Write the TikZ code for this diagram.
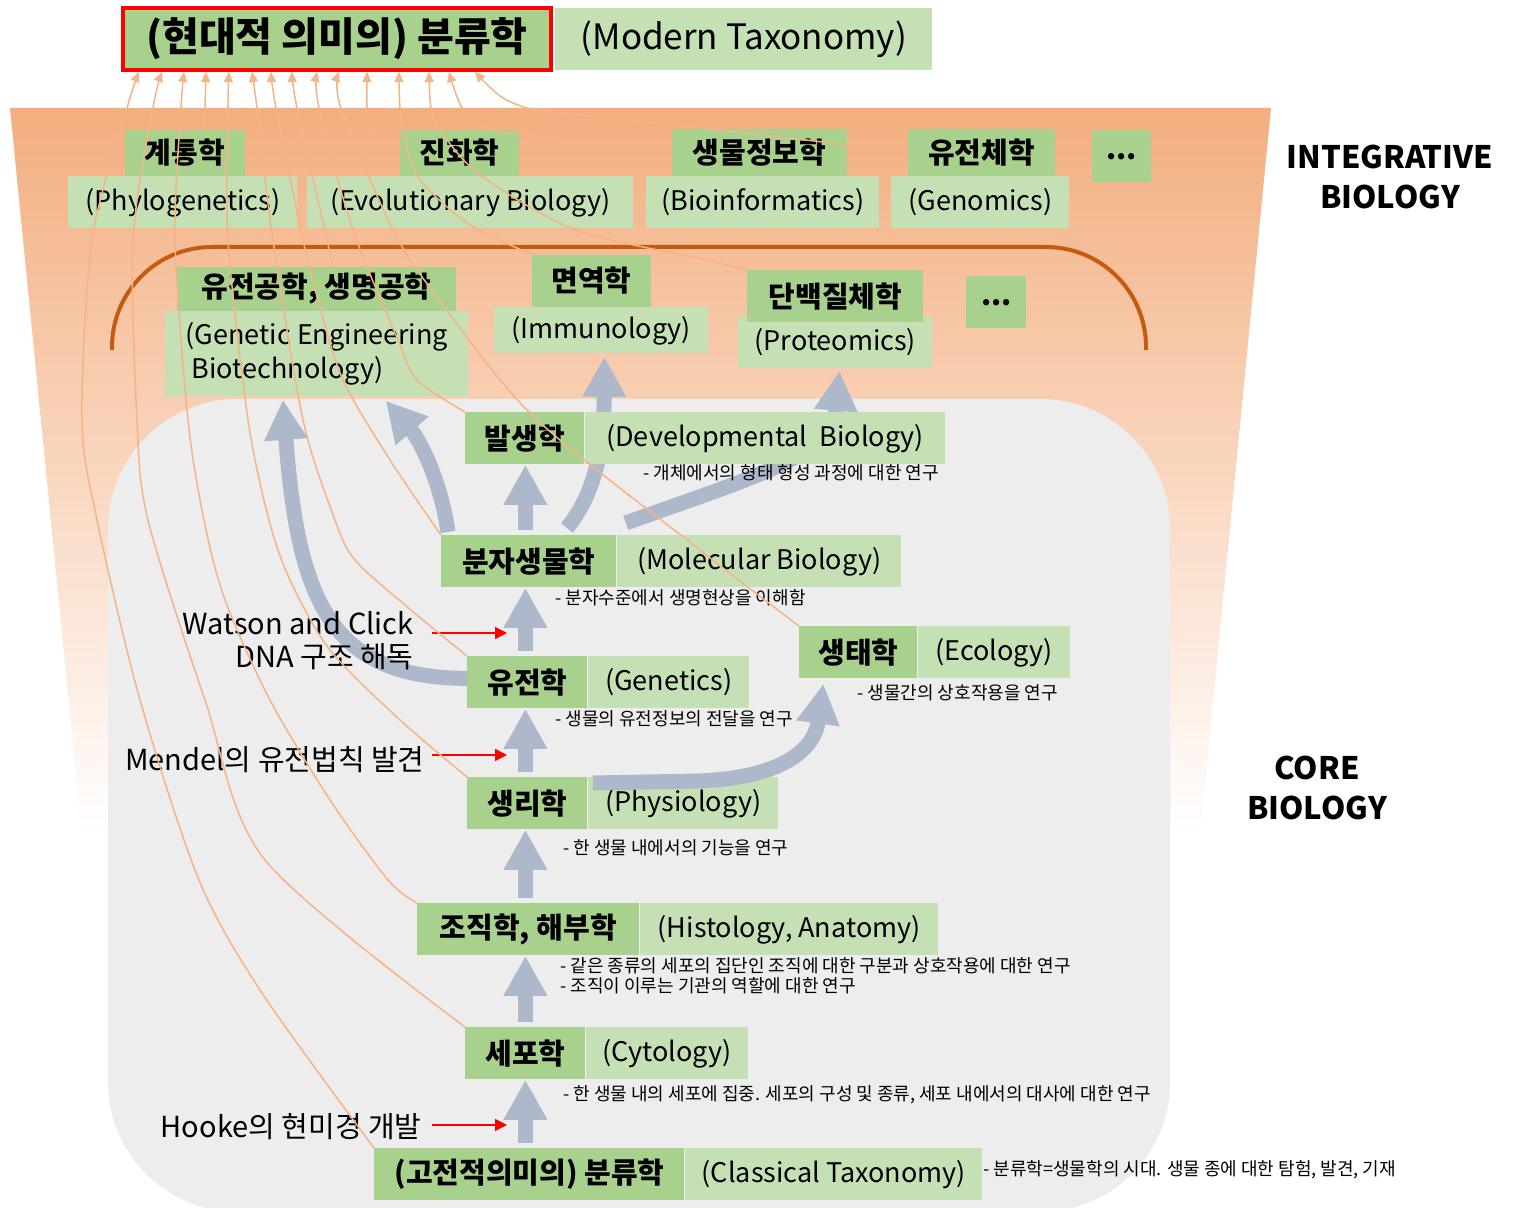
\documentclass[tikz,border=0pt]{standalone}
\usepackage{fontspec}
\setmainfont{Noto Sans CJK KR}
\usetikzlibrary{arrows.meta,positioning,calc}
\definecolor{kgreen}{HTML}{A9D18E}
\definecolor{egreen}{HTML}{C5E0B4}
\definecolor{arrgray}{HTML}{ADB9CA}
\definecolor{thinor}{HTML}{F5B386}
\definecolor{ortop}{HTML}{F3AE7F}
\definecolor{ormid}{HTML}{F8CAA9}
\definecolor{corebg}{HTML}{EDEDED}
\definecolor{arcbrown}{HTML}{C55A11}
\pgfdeclarelayer{bg}
\pgfdeclarelayer{under}
\pgfsetlayers{bg,under,main}

\begin{document}
\begin{tikzpicture}[x=0.5pt,y=-0.5pt,
kbox/.style={fill=kgreen,inner sep=0pt,minimum height=26pt,font=\bfseries\fontsize{14.5}{17}\selectfont},
ebox/.style={fill=egreen,inner sep=0pt,minimum height=26pt,font=\fontsize{13.5}{17}\selectfont},
note/.style={anchor=west,inner sep=0pt,align=left,font=\fontsize{9}{10}\selectfont},
sidelab/.style={anchor=east,inner sep=0pt,align=right,font=\fontsize{14.5}{16.5}\selectfont},
bigtitle/.style={align=center,inner sep=0pt,font=\bfseries\fontsize{15.5}{20}\selectfont},
bigarr/.style={draw=arrgray,line width=7.5pt,-{Triangle[length=20pt,width=20.5pt]}},
orln/.style={draw=thinor,line width=0.75pt,-{Triangle[length=5pt,width=4.5pt]}},
redarr/.style={draw=red,line width=0.8pt,-{Triangle[length=6pt,width=6pt]}}]
\useasboundingbox (0,0) rectangle (1517,1208);
% background bands
\begin{pgfonlayer}{bg}
\fill[white] (0,0) rectangle (1517,1208);
\shade[top color=ortop,middle color=ormid,bottom color=white] (10,108) -- (1271,108) -- (1200,835) -- (82,835) -- cycle;
\fill[corebg,rounded corners=65pt] (108,399) rectangle (1170,1212);
\draw[arcbrown,line width=2pt,rounded corners=50pt] (112,350) |- (1146,247) -- (1146,350);
\end{pgfonlayer}
\node[bigtitle] (integ) at (1390,177) {INTEGRATIVE\\BIOLOGY};
\node[bigtitle] (core) at (1317,788) {CORE\\BIOLOGY};
% top
\node[kbox,draw=red,line width=2pt,minimum width=214pt,minimum height=31pt,font=\bfseries\fontsize{20}{22}\selectfont] (modernK) at (337,39) {(현대적 의미의) 분류학};
\node[ebox,minimum width=188.5pt,minimum height=31pt,font=\fontsize{17.5}{20}\selectfont,right=1pt of modernK] (modernE) {(Modern Taxonomy)};
% integrative row
\node[ebox,minimum width=114.5pt,anchor=north west] (phyloE) at (68,176) {(Phylogenetics)};
\node[kbox,minimum width=60pt,minimum height=23pt,anchor=south] (phyloK) at (185,176) {계통학};
\node[ebox,minimum width=163pt,anchor=north west] (evoE) at (307,176) {(Evolutionary Biology)};
\node[kbox,minimum width=59.5pt,minimum height=23pt,anchor=south] (evoK) at (459.5,176) {진화학};
\node[ebox,minimum width=116.5pt,anchor=north west] (bioinfE) at (646,176) {(Bioinformatics)};
\node[kbox,minimum width=87.5pt,minimum height=23.5pt,anchor=south] (bioinfK) at (759.5,176) {생물정보학};
\node[ebox,minimum width=89pt,anchor=north west] (genomE) at (891,176) {(Genomics)};
\node[kbox,minimum width=73.5pt,minimum height=23.5pt,anchor=south] (genomK) at (981.5,176) {유전체학};
\node[kbox,minimum width=29.5pt,anchor=north west] (dotsA) at (1092,130) {...};
% applied row
\node[ebox,minimum width=151.5pt,minimum height=42.5pt,align=left,anchor=north west] (engE) at (165,311) {(Genetic Engineering\\\ Biotechnology)};
\node[kbox,minimum width=139.5pt,minimum height=22pt,anchor=south] (engK) at (316.5,311) {유전공학, 생명공학};
\node[ebox,minimum width=107pt,minimum height=23pt,anchor=north west] (immE) at (494,307) {(Immunology)};
\node[kbox,minimum width=59.5pt,anchor=south] (immK) at (591.5,307) {면역학};
\node[ebox,minimum width=97pt,anchor=north west] (protE) at (738,316) {(Proteomics)};
\node[kbox,minimum width=88pt,anchor=north west] (protK) at (747,270) {단백질체학};
\node[kbox,minimum width=30pt,anchor=north west] (dotsB) at (966,276) {...};
% core row
\node[kbox,minimum width=59.5pt,anchor=north west] (devK) at (465,412) {발생학};
\node[ebox,minimum width=180pt,right=0pt of devK] (devE) {(Developmental\ \ Biology)};
\node[kbox,minimum width=87.5pt,anchor=north west] (molK) at (441,535) {분자생물학};
\node[ebox,minimum width=142pt,right=0pt of molK] (molE) {(Molecular Biology)};
\node[kbox,minimum width=59pt,anchor=north west] (ecoK) at (799,626) {생태학};
\node[ebox,minimum width=76pt,right=0pt of ecoK] (ecoE) {(Ecology)};
\node[kbox,minimum width=60pt,anchor=north west] (genK) at (467,656) {유전학};
\node[ebox,minimum width=80.5pt,right=0pt of genK] (genE) {(Genetics)};
\node[kbox,minimum width=60pt,anchor=north west] (physK) at (467,777) {생리학};
\node[ebox,minimum width=95pt,right=0pt of physK] (physE) {(Physiology)};
\node[kbox,minimum width=111pt,anchor=north west] (histK) at (417,903) {조직학, 해부학};
\node[ebox,minimum width=149pt,right=0pt of histK] (histE) {(Histology, Anatomy)};
\node[kbox,minimum width=60pt,anchor=north west] (cytoK) at (465,1027) {세포학};
\node[ebox,minimum width=81pt,right=0pt of cytoK] (cytoE) {(Cytology)};
\node[kbox,minimum width=155pt,anchor=north west] (classK) at (374,1148) {(고전적의미의) 분류학};
\node[ebox,minimum width=148.5pt,right=0pt of classK] (classE) {(Classical Taxonomy)};
% thick arrows
\foreach \a/\b in {classK/cytoK,cytoK/histK,histK/physK,physK/genK,genK/molK,molK/devK}
  \draw[bigarr,shorten <=2.5pt] (cytoK.center |- \a.north) -- (cytoK.center |- \b.south);
\begin{pgfonlayer}{under}
\draw[bigarr] ($(molK.north)+(38,-7)$) .. controls (598,490) and (604,440) .. ($(immE.south)+(3,3)$);
\draw[bigarr] ($(molE.north west)+(9,-12)$) .. controls (760,475) and (832,455) .. ($(protE.south)+(4,2)$);
\end{pgfonlayer}
\draw[bigarr] ($(molK.north west)+(7,-3)$) .. controls (441,482) and (420,440) .. ($(engE.south east)+(-83,4)$);
\draw[bigarr] ([yshift=2pt]genK.west) .. controls (330,678) and (298,600) .. ($(engE.south)+(-34,3)$);
\draw[bigarr] ($(physE.north west)+(5,6)$) -- (700,781) .. controls (790,777) and (815,745) .. ($(ecoK.south)+(-35,5)$);
% notes
\node[note] (devN) at (643,473) {- 개체에서의 형태 형성 과정에 대한 연구};
\node[note] (molN) at (555,598) {- 분자수준에서 생명현상을 이해함};
\node[note] (genN) at (555,719) {- 생물의 유전정보의 전달을 연구};
\node[note] (ecoN) at (857,693) {- 생물간의 상호작용을 연구};
\node[note] (physN) at (563,848) {- 한 생물 내에서의 기능을 연구};
\node[note] (histN) at (560,976) {- 같은 종류의 세포의 집단인 조직에 대한 구분과 상호작용에 대한 연구\\- 조직이 이루는 기관의 역할에 대한 연구};
\node[note] (cytoN) at (563,1095) {- 한 생물 내의 세포에 집중. 세포의 구성 및 종류, 세포 내에서의 대사에 대한 연구};
\node[note] (classN) at (983,1170) {- 분류학=생물학의 시대. 생물 종에 대한 탐험, 발견, 기재};
% discoveries
\node[sidelab] (watson) at (414,641) {Watson and Click\\DNA 구조 해독};
\node[sidelab] (mendel) at (425,760) {Mendel의 유전법칙 발견};
\node[sidelab] (hooke) at (422,1127) {Hooke의 현미경 개발};
\coordinate (wtip) at (507,633);
\coordinate (mtip) at (507,755);
\coordinate (htip) at (507,1125);
\draw[redarr,shorten <=9pt] (watson.east |- wtip) -- (wtip);
\draw[redarr,shorten <=3.5pt] (mendel.east |- mtip) -- (mtip);
\draw[redarr,shorten <=5pt] (hooke.east |- htip) -- (htip);
% thin links to modern taxonomy
\foreach \n/\d in {A/18,B/41,C/63,D/85,E/108,F/131,G/150,H/171,J/196,I/218,K/246,L/278,M/308,N/328,O/354}
  \coordinate (t\n) at ($(modernK.south west)+(\d,0)$);
\coordinate (phyloTop) at ($(phyloK.north)+(20,0)$);
\coordinate (engTop) at ($(engK.north)+(16,0)$);
\draw[orln] plot[smooth] coordinates {(classK.north west) (262,993) (199,880) (140,700) (97,520) (82,420) (92,240) (127,108) (tA)};
\draw[orln] plot[smooth] coordinates {(cytoK.north west) (265,860) (205,700) (148,520) (137,420) (133,240) (153,108) (tB)};
\draw[orln] plot[smooth] coordinates {(histK.north west) (388,880) (330,800) (270,700) (225,600) (204,520) (188,420) (175,240) (181,108) (tC)};
\draw[orln] plot[smooth] coordinates {(phyloTop) (205,108) (tD)};
\draw[orln] plot[smooth] coordinates {(physK.north west) (400,720) (330,650) (290,580) (269,520) (248,420) (228,240) (228,108) (tE)};
\draw[orln] plot[smooth] coordinates {(genK.north west) (405,605) (355,560) (335,520) (303,420) (273,240) (257,108) (tF)};
\draw[orln] plot[smooth] coordinates {(molK.north west) (390,460) (343,380) (318,300) (303,240) (276,108) (tG)};
\draw[orln] plot[smooth] coordinates {(engTop) (327,240) (297,108) (tH)};
\draw[orln] plot[smooth] coordinates {(ecoK.north west) (700,550) (534,417) (437,297) (393,230) (341,108) (tI)};
\draw[orln] plot[smooth] coordinates {(devK.north west) (417,380) (398,340) (353,230) (319,108) (tJ)};
\draw[orln] plot[smooth] coordinates {(evoK.west) (380,142) (369,125) (367,108) (tK)};
\draw[orln] plot[smooth] coordinates {(immK.north west) (470,225) (420,180) (405,140) (400,108) (tL)};
\draw[orln] plot[smooth] coordinates {(protK.north west) (707,260) (576,230) (480,175) (440,130) (431,108) (tM)};
\draw[orln] plot[smooth] coordinates {(bioinfK.west) (560,140) (485,128) (462,108) (tN)};
\draw[orln] plot[smooth] coordinates {(genomK.west) (720,130) (560,113) (527,108) (500,96) (tO)};
\end{tikzpicture}
\end{document}
